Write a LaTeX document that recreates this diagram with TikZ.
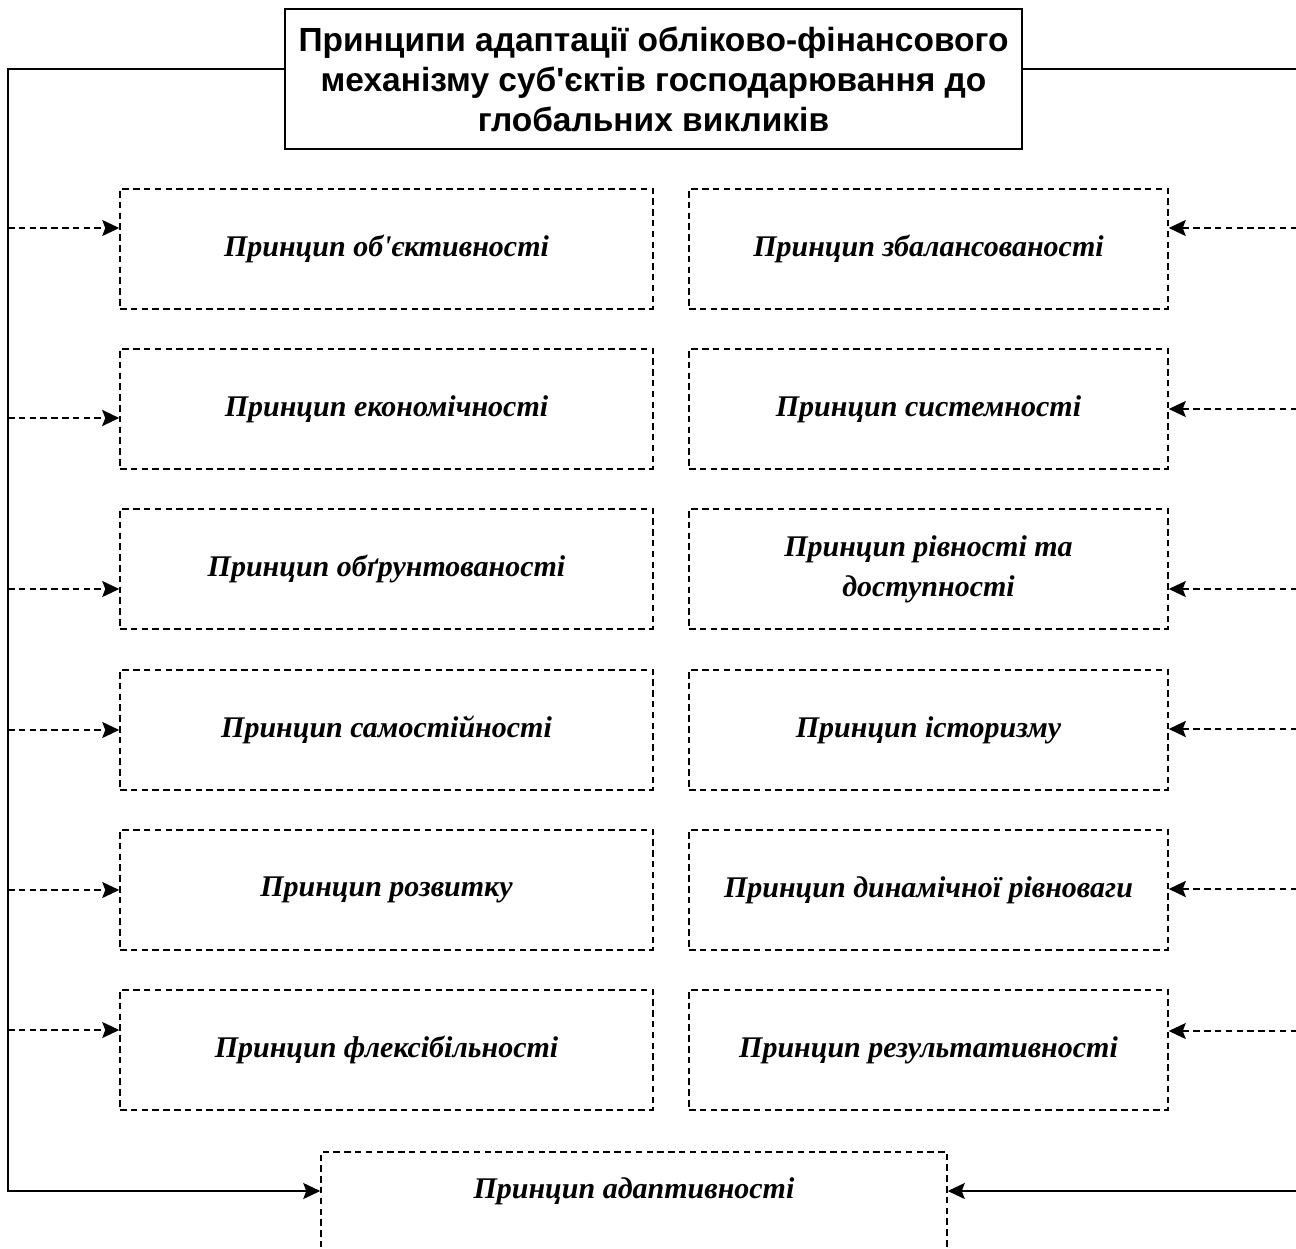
\documentclass[tikz,border=0pt]{standalone}
\usepackage{fontspec}
\newfontfamily\headfont{Liberation Sans}
\newfontfamily\boxfont{Liberation Serif}
\usetikzlibrary{arrows.meta}

\begin{document}
\begin{tikzpicture}[x=1pt,y=-1pt,
    head/.style={draw,line width=1.6pt,minimum width=737pt,minimum height=140pt,
      align=center,font=\headfont\bfseries\fontsize{33.5}{40}\selectfont},
    principle/.style={draw,line width=1.5pt,dash pattern=on 6.5pt off 4.3pt,
      minimum height=120pt,align=center,
      font=\boxfont\bfseries\itshape\fontsize{30}{40}\selectfont},
    ptext/.style={align=center,font=\boxfont\bfseries\itshape\fontsize{30}{40}\selectfont},
    link/.style={line width=1.6pt,-{Stealth[length=17pt,width=16pt,inset=3pt]}},
    dlink/.style={line width=1.5pt,dash pattern=on 6.5pt off 4.3pt,
      -{Stealth[length=17pt,width=16pt,inset=3pt,sep=0pt]}},
    bdlink/.style={dlink,line width=2.6pt}]
  \useasboundingbox (0,0) rectangle (1296,1248);

  % heading
  \node[head] (head) at (653.5,79) {Принципи адаптації обліково-фінансового\\
    механізму суб'єктів господарювання до\\глобальних викликів};

  % left column
  \node[principle,minimum width=533pt] (l1) at (386.5,249) {Принцип об'єктивності};
  \node[principle,minimum width=533pt] (l2) at (386.5,409) {Принцип економічності};
  \node[principle,minimum width=533pt] (l3) at (386.5,569) {Принцип обґрунтованості};
  \node[principle,minimum width=533pt] (l4) at (386.5,730) {Принцип самостійності};
  \node[principle,minimum width=533pt] (l5) at (386.5,890) {Принцип розвитку};
  \node[principle,minimum width=533pt] (l6) at (386.5,1050) {Принцип флексібільності};

  % right column
  \node[principle,minimum width=479pt] (r1) at (928.5,249) {Принцип збалансованості};
  \node[principle,minimum width=479pt] (r2) at (928.5,409) {Принцип системності};
  \node[principle,minimum width=479pt] (r3) at (928.5,569) {Принцип рівності та\\доступності};
  \node[principle,minimum width=479pt] (r4) at (928.5,730) {Принцип історизму};
  \node[principle,minimum width=479pt] (r5) at (928.5,890) {Принцип динамічної рівноваги};
  \node[principle,minimum width=479pt] (r6) at (928.5,1050) {Принцип результативності};

  % bottom
  \node[principle,minimum width=626pt,minimum height=160pt,anchor=north] (adapt) at (634,1151) {};
  \node[ptext] (adaptt) at (634,1191) {Принцип адаптивності};

  % frame lines
  \coordinate (tl) at (8,69);
  \coordinate (bl) at (8,1191);
  \coordinate (tr) at (1297,69);
  \coordinate (br) at (1297,1191);
  \draw[link] (head.west |- tl) -- (tl) -- (bl) -- (adaptt -| adapt.west);
  \draw[link] (head.east |- tr) -- (tr) -- (br) -- (adaptt -| adapt.east);

  % left arrows
  \coordinate (a1) at (8,228);
  \coordinate (a2) at (8,418);
  \coordinate (a3) at (8,589);
  \coordinate (a4) at (8,730);
  \coordinate (a5) at (8,890);
  \coordinate (a6) at (8,1030);
  \draw[dlink] (a1) -- (a1 -| l1.west);
  \draw[bdlink] (a2) -- (a2 -| l2.west);
  \draw[dlink] (a3) -- (a3 -| l3.west);
  \draw[dlink] (a4) -- (a4 -| l4.west);
  \draw[dlink] (a5) -- (a5 -| l5.west);
  \draw[dlink] (a6) -- (a6 -| l6.west);

  % right arrows
  \coordinate (b1) at (1297,228);
  \coordinate (b2) at (1297,409);
  \coordinate (b3) at (1297,589);
  \coordinate (b4) at (1297,729);
  \coordinate (b5) at (1297,889);
  \coordinate (b6) at (1297,1031);
  \draw[dlink] (b1) -- (b1 -| r1.east);
  \draw[dlink] (b2) -- (b2 -| r2.east);
  \draw[dlink] (b3) -- (b3 -| r3.east);
  \draw[bdlink] (b4) -- (b4 -| r4.east);
  \draw[bdlink] (b5) -- (b5 -| r5.east);
  \draw[dlink] (b6) -- (b6 -| r6.east);
\end{tikzpicture}
\end{document}
